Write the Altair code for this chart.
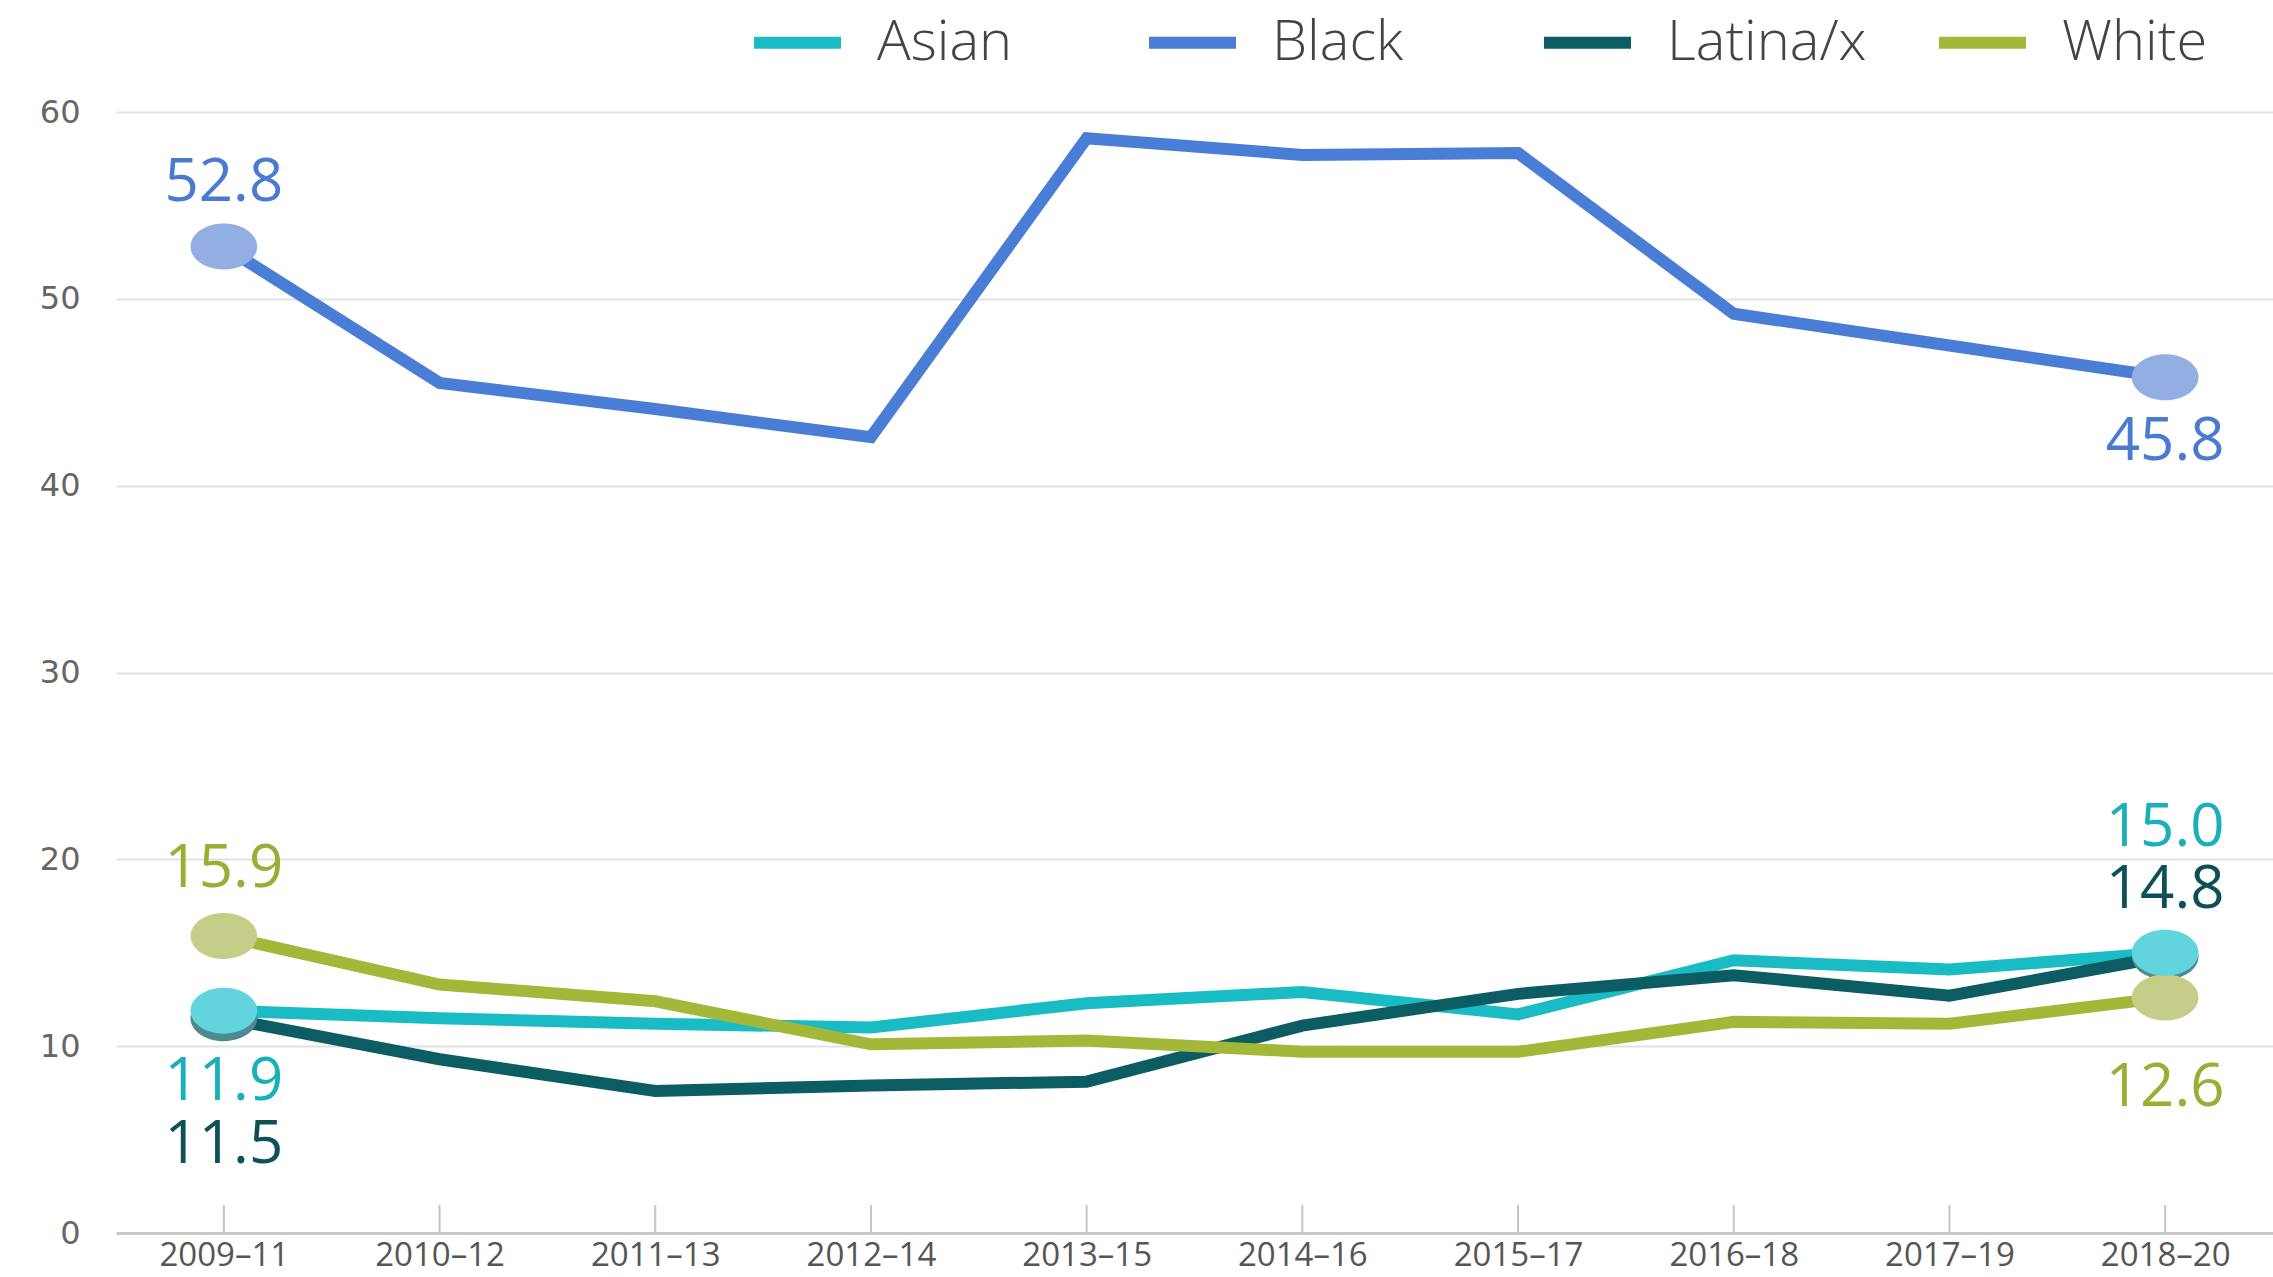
import altair as alt
import pandas as pd

periods = ["2009–11", "2010–12", "2011–13", "2012–14", "2013–15",
           "2014–16", "2015–17", "2016–18", "2017–19", "2018–20"]
series_names = ["Asian", "Black", "Latina/x", "White"]
asian = [11.9, 11.5, 11.2, 11.0, 12.3, 12.9, 11.7, 14.6, 14.1, 15.0]
black = [52.8, 45.5, 44.1, 42.6, 58.6, 57.7, 57.8, 49.2, 47.5, 45.8]
latina = [11.5, 9.3, 7.6, 7.9, 8.1, 11.1, 12.8, 13.8, 12.7, 14.8]
white = [15.9, 13.3, 12.4, 10.1, 10.3, 9.7, 9.7, 11.3, 11.2, 12.6]
y_ticks = [0, 10, 20, 30, 40, 50, 60]

line_colors = ["#19BCC5", "#4A7DD6", "#0B5C63", "#A3B839"]
point_colors = ["#62D4DD", "#93AEE3", "#4F8A90", "#C6CD88"]
text_colors = ["#1AB0B9", "#4A7BD0", "#0C5158", "#9AAE35"]

rows = []
for name, vals in zip(series_names, [asian, black, latina, white]):
    for p, v in zip(periods, vals):
        rows.append({"series": name, "period": p, "value": v})
df = pd.DataFrame(rows)

ends = df[df["period"].isin([periods[0], periods[-1]])].copy()
ends["label"] = ends["value"].map(lambda v: f"{v:.1f}")
point_order = {"Latina/x": 0, "White": 1, "Black": 2, "Asian": 3}
ends["ord"] = ends["series"].map(point_order)

ticks_df = pd.DataFrame({"period": periods})

x_axis = alt.Axis(title=None, labelAngle=0, labelAlign="center", ticks=False, grid=False,
                  domainColor="#c9c9c9", domainWidth=3,
                  labelPadding=6, labelFontSize=33,
                  labelFont="Open Sans", labelColor="#555555")
x_enc = alt.X("period:N", sort=periods,
              scale=alt.Scale(type="point", padding=0.5), axis=x_axis)
y_enc = alt.Y("value:Q", scale=alt.Scale(domain=[0, 60], nice=False),
              axis=alt.Axis(title=None, values=y_ticks, grid=True, domain=False,
                            ticks=False, labelPadding=36, labelFontSize=32,
                            labelFont="DejaVu Sans", labelColor="#666666",
                            gridColor="#e2e2e2", gridWidth=2))

color_line = alt.Color("series:N", sort=series_names,
                       scale=alt.Scale(domain=series_names, range=line_colors),
                       legend=alt.Legend(title=None, orient="none", direction="horizontal",
                                         legendX=632, legendY=-119, padding=0,
                                         symbolType="stroke", symbolSize=7569,
                                         symbolStrokeWidth=12, labelFontSize=56,
                                         labelFont="Open Sans", labelFontWeight=300,
                                         labelColor="#444444", labelOffset=30,
                                         labelLimit=500, gridAlign="all",
                                         columnPadding=48, columns=4))

lines = alt.Chart(df).mark_line(strokeWidth=12).encode(
    x=x_enc, y=y_enc, color=color_line, detail="series:N")

tick_rules = alt.Chart(ticks_df).mark_rule(color="#c4c4c4", strokeWidth=2).encode(
    x=x_enc, y=alt.value(1093), y2=alt.value(1121))

points = alt.Chart(ends).mark_point(
    shape="M-1.45,0 A1.45,1 0 1,0 1.45,0 A1.45,1 0 1,0 -1.45,0 Z",
    size=2116, filled=True, opacity=1, strokeWidth=1.5).encode(
    x=x_enc, y=y_enc,
    fill=alt.Fill("series:N", scale=alt.Scale(domain=series_names, range=point_colors), legend=None),
    order=alt.Order("ord:Q"))

offsets = {
    ("Black", 0): -64, ("Black", 1): 65,
    ("White", 0): -67, ("Asian", 0): 71, ("Latina/x", 0): 127,
    ("Asian", 1): -125, ("Latina/x", 1): -66, ("White", 1): 90,
}
text_layers = []
for (name, end), dy in offsets.items():
    per = periods[0] if end == 0 else periods[-1]
    sub = ends[(ends["series"] == name) & (ends["period"] == per)]
    col = text_colors[series_names.index(name)]
    text_layers.append(
        alt.Chart(sub).mark_text(fontSize=60, font="Open Sans", baseline="middle",
                                 align="center", dy=dy, color=col).encode(
            x=x_enc, y=y_enc, text="label:N"))

chart = alt.layer(tick_rules, lines, points, *text_layers).resolve_scale(
    color="independent", fill="independent"
).properties(
    width=2157, height=1121,
    autosize=alt.AutoSizeParams(type="none"),
    padding={"left": 116, "top": 112, "right": 0, "bottom": 44},
    background="white",
).configure_view(stroke=None)

chart.save("out.html", embed_options={"renderer": "svg", "actions": False})
